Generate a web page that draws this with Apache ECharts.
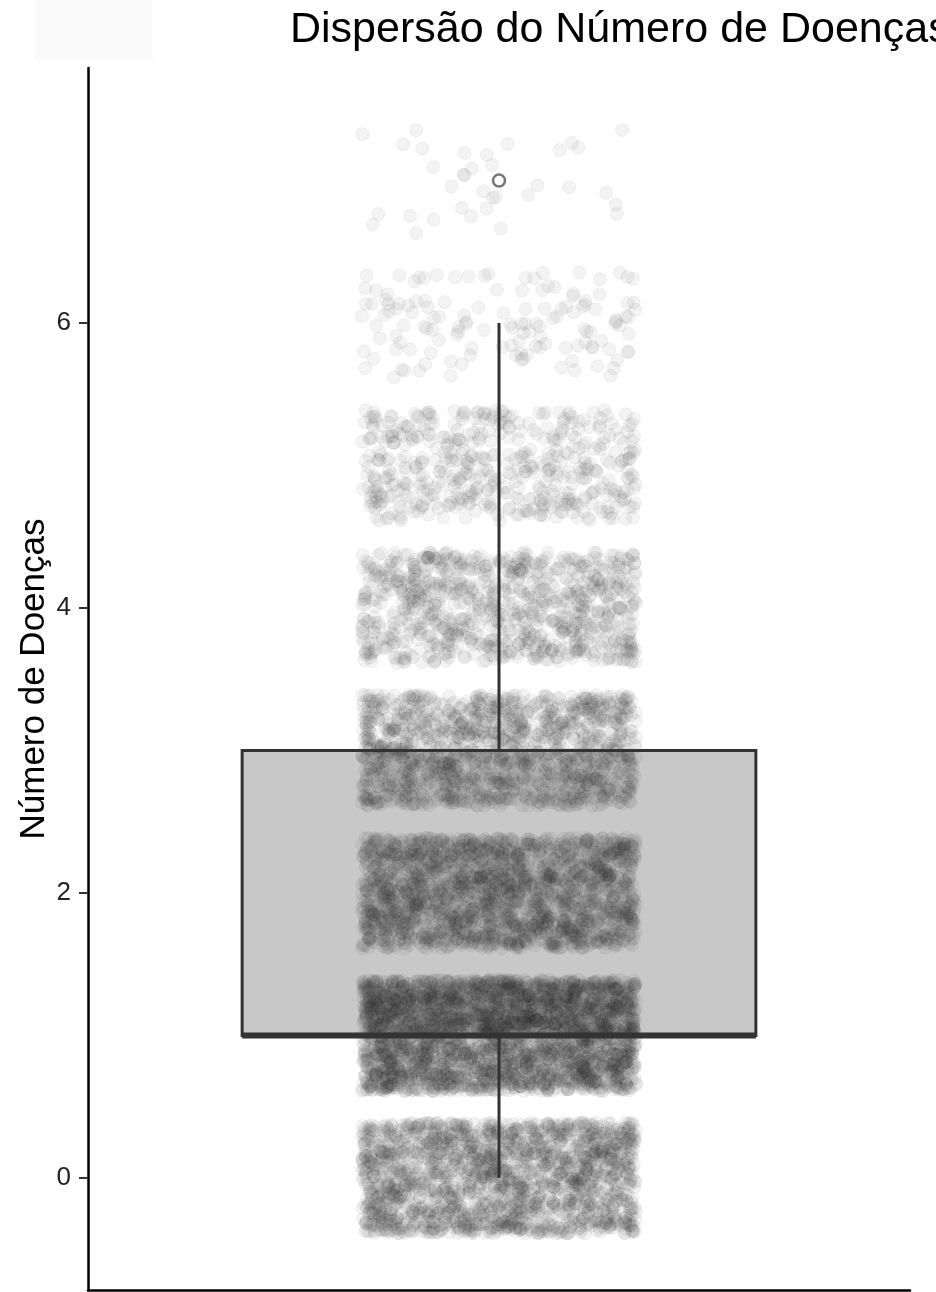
<!DOCTYPE html>
<html>
<head>
<meta charset="utf-8">
<script src="https://cdn.jsdelivr.net/npm/echarts@6/dist/echarts.min.js"></script>
<style>
  html, body { margin: 0; padding: 0; background: #fff; }
  #main { width: 936px; height: 1292px; }
</style>
</head>
<body>
<div id="main"></div>
<script>
// valores (número de doenças) e quantas pessoas em cada um
const levels = [0, 1, 2, 3, 4, 5, 6, 7];
const counts = [1900, 3200, 2000, 1400, 900, 500, 140, 35];
// min, Q1, mediana, Q3, max (bigode)
const boxStats = [0, 1, 1, 3, 6];
const outliers = [7];
const yTicks = [0, 2, 4, 6];

const FONT = "'Liberation Sans', Arial, Helvetica, sans-serif";
const boxHalf = 0.375;
const jitterW = 0.2;
const jitterH = 0.39;

// deslocamento do jitter (só posição de desenho, como geom_jitter)
function fmix(h) {
  h ^= h >>> 16;
  h = Math.imul(h, 0x85ebca6b);
  h ^= h >>> 13;
  h = Math.imul(h, 0xc2b2ae35);
  h ^= h >>> 16;
  return (h >>> 0) / 4294967296;
}

const points = [];
let k = 0;
levels.forEach(function (lv, i) {
  for (let j = 0; j < counts[i]; j++) {
    k++;
    const h = Math.imul(k, 0x9e3779b1);
    points.push([1 + (fmix(h + 12345) - 0.5) * 2 * jitterW, lv + (fmix(h ^ 0x5bd1e995) - 0.5) * 2 * jitterH]);
  }
});

const boxData = [[1].concat(boxStats)];

function boxFill(params, api) {
  const x = api.value(0);
  const a = api.coord([x - boxHalf, api.value(2)]);
  const b = api.coord([x + boxHalf, api.value(4)]);
  return {
    type: "rect",
    shape: { x: a[0], y: b[1], width: b[0] - a[0], height: a[1] - b[1] },
    style: { fill: "#c8c8c8" }
  };
}

function boxLines(params, api) {
  const x = api.value(0);
  const c = function (dx, v) { return api.coord([x + dx, v]); };
  const a = c(-boxHalf, api.value(2));
  const b = c(boxHalf, api.value(4));
  const lineStyle = { stroke: "#333", lineWidth: 3, fill: null };
  return {
    type: "group",
    children: [
      {
        type: "line",
        shape: { x1: c(0, api.value(4))[0], y1: c(0, api.value(4))[1], x2: c(0, api.value(5))[0], y2: c(0, api.value(5))[1] },
        style: lineStyle
      },
      {
        type: "line",
        shape: { x1: c(0, api.value(2))[0], y1: c(0, api.value(2))[1], x2: c(0, api.value(1))[0], y2: c(0, api.value(1))[1] },
        style: lineStyle
      },
      {
        type: "rect",
        shape: { x: a[0], y: b[1], width: b[0] - a[0], height: a[1] - b[1] },
        style: lineStyle
      },
      {
        type: "line",
        shape: { x1: a[0], y1: c(0, api.value(3))[1], x2: b[0], y2: c(0, api.value(3))[1] },
        style: { stroke: "#333", lineWidth: 6 }
      }
    ]
  };
}

let myChart = echarts.init(document.getElementById("main"));
let option = {
  animation: false,
  backgroundColor: "#fff",
  title: {
    text: "Dispersão do Número de Doenças",
    left: 285,
    top: 4,
    textStyle: { fontSize: 43, fontWeight: "normal", color: "#000", fontFamily: FONT }
  },
  graphic: [
    { type: "rect", shape: { x: 35, y: 0, width: 118, height: 60 }, style: { fill: "#fafafa" }, z: -10 }
  ],
  grid: { left: 88, right: 26, top: 68, bottom: 2 },
  xAxis: {
    type: "value",
    min: 0.4,
    max: 1.6,
    axisLine: { show: true, onZero: false, lineStyle: { color: "#000", width: 2.5 } },
    axisTick: { show: false },
    axisLabel: { show: false },
    splitLine: { show: false }
  },
  yAxis: {
    type: "value",
    min: -0.786,
    max: 7.79,
    name: "Número de Doenças",
    nameLocation: "middle",
    nameGap: 36,
    nameMoveOverlap: false,
    nameTextStyle: { fontSize: 35, color: "#000", fontFamily: FONT },
    axisLine: { show: true, lineStyle: { color: "#000", width: 2.5 } },
    axisTick: { show: true, length: 9, customValues: yTicks, lineStyle: { color: "#333", width: 2 } },
    axisLabel: { customValues: yTicks, fontSize: 26, color: "#222", margin: 17, fontFamily: FONT },
    splitLine: { show: false }
  },
  series: [
    {
      type: "custom",
      name: "caixa",
      renderItem: boxFill,
      data: boxData,
      silent: true
    },
    {
      type: "scatter",
      name: "pontos",
      data: points,
      symbol: "circle",
      symbolSize: 13,
      silent: true,
      large: false,
      progressive: 0,
      itemStyle: {
        color: "rgba(40,40,40,0.07)",
        borderColor: "rgba(40,40,40,0.07)",
        borderWidth: 1
      }
    },
    {
      type: "custom",
      name: "linhas",
      renderItem: boxLines,
      data: boxData,
      silent: true
    },
    {
      type: "scatter",
      name: "outlier",
      data: outliers.map(function (v) { return [1, v]; }),
      symbol: "circle",
      symbolSize: 12,
      silent: true,
      itemStyle: { color: "rgba(255,255,255,0)", borderColor: "#555", borderWidth: 2.5 }
    }
  ]
};
myChart.setOption(option);
</script>
</body>
</html>
